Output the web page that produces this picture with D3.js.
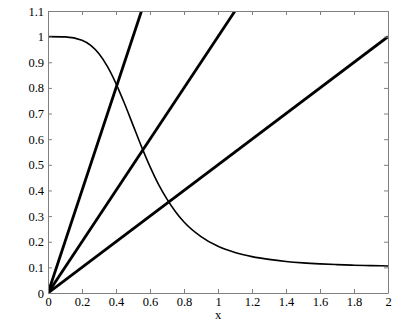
<!DOCTYPE html>
<html><head><meta charset="utf-8">
<script src="https://cdn.jsdelivr.net/npm/d3@7"></script>
<style>body{margin:0;background:#fff}svg{display:block}</style>
</head><body><svg id="c" width="415" height="326"></svg>
<script>
// Data
const xTicks = [0,0.2,0.4,0.6,0.8,1,1.2,1.4,1.6,1.8,2];
const yTicks = [0,0.1,0.2,0.3,0.4,0.5,0.6,0.7,0.8,0.9,1,1.1];
const lineSteep = [[0,0],[0.55,1.1]];
const lineMid = [[0,0],[1.1,1.1]];
const lineShallow = [[0,0],[2,1]];
const curveX = [0,0.1,0.2,0.3,0.35,0.4,0.45,0.5,0.55,0.6,0.65,0.7,0.75,0.8,0.9,1.0,1.1,1.2,1.3,1.4,1.5,1.6,1.7,1.8,1.9,2.0];
const curveY = [1.0,0.999,0.986,0.933,0.883,0.817,0.739,0.655,0.571,0.493,0.424,0.366,0.317,0.277,0.220,0.182,0.158,0.142,0.131,0.123,0.1175,0.1136,0.1107,0.1085,0.1069,0.1056];

const FONT = "'Liberation Serif', 'Times New Roman', Times, serif";
const FS = 12.5;
const svg = d3.select("#c");
const L=48,R=388,T=11,B=293;
const x = d3.scaleLinear().domain([0,2]).range([L,R]);
const y = d3.scaleLinear().domain([0,1.1]).range([B,T]);
const axisCol="#808080";

svg.append("defs").append("clipPath").attr("id","clip").append("rect")
  .attr("x",L).attr("y",T).attr("width",R-L).attr("height",B-T);

const g = svg.append("g").attr("clip-path","url(#clip)");
const line = d3.line().x(d=>x(d[0])).y(d=>y(d[1]));
[lineSteep,lineMid,lineShallow].forEach(d=>{
  g.append("path").attr("d",line(d)).attr("fill","none").attr("stroke","#000").attr("stroke-width",2.8);
});
const cData = curveX.map((v,i)=>[v,curveY[i]]);
g.append("path").attr("d",line.curve(d3.curveMonotoneX)(cData)).attr("fill","none").attr("stroke","#000").attr("stroke-width",1.6);

function styleAxis(sel){
  sel.attr("font-family",FONT).attr("font-size",FS);
  sel.selectAll("path").attr("stroke",axisCol);
  sel.selectAll("line").attr("stroke",axisCol);
  sel.selectAll("text").attr("fill","#000").attr("font-family",FONT).attr("font-size",FS);
}
const fmt = d=>d3.format("")(d);
svg.append("g").attr("transform",`translate(0,${B})`)
  .call(d3.axisBottom(x).tickValues(xTicks).tickFormat(fmt).tickSizeInner(-4).tickSizeOuter(0).tickPadding(4))
  .call(styleAxis);
svg.append("g").attr("transform",`translate(0,${T})`)
  .call(d3.axisTop(x).tickValues(xTicks).tickFormat("").tickSizeInner(-4).tickSizeOuter(0))
  .call(styleAxis);
svg.append("g").attr("transform",`translate(${L},0)`)
  .call(d3.axisLeft(y).tickValues(yTicks).tickFormat(fmt).tickSizeInner(-4).tickSizeOuter(0).tickPadding(4))
  .call(styleAxis);
svg.append("g").attr("transform",`translate(${R},0)`)
  .call(d3.axisRight(y).tickValues(yTicks).tickFormat("").tickSizeInner(-4).tickSizeOuter(0))
  .call(styleAxis);

svg.append("text").attr("x",(L+R)/2).attr("y",319).attr("text-anchor","middle")
  .attr("font-family",FONT).attr("font-size",FS).attr("fill","#000").text("x");
</script></body></html>
